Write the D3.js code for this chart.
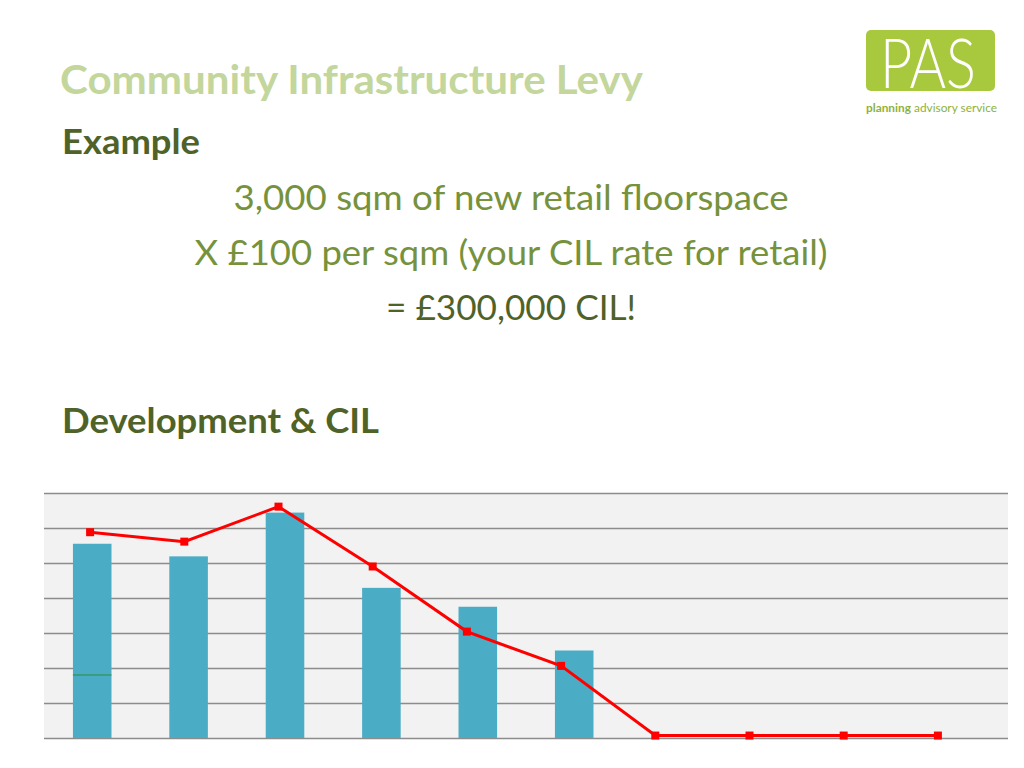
<!DOCTYPE html>
<html><head><meta charset="utf-8">
<script src="https://cdn.jsdelivr.net/npm/d3@7"></script>
<style>html,body{margin:0;padding:0;background:#fff;}svg{display:block;font-family:Lato,"Open Sans",sans-serif;}</style>
</head><body>
<svg id="c" width="1024" height="768"></svg>
<script>
// Data
const categories = ["A","B","C","D","E","F","G","H","I","J"];
const developmentValues = [5.55, 5.19, 6.44, 4.29, 3.75, 2.5, 0, 0, 0, 0];
const cilValues = [5.88, 5.61, 6.61, 4.9, 3.04, 2.06, 0.07, 0.07, 0.07, 0.07];
const markValues = [1.8, null, null, null, null, null, null, null, null, null];
const yTicks = [0,1,2,3,4,5,6,7];

(function(){
const svg = d3.select("#c");

// Texts
svg.append("text").attr("x",60).attr("y",94).attr("fill","#c3d69b")
  .attr("font-size",41).attr("font-weight","bold")
  .attr("textLength",583).attr("lengthAdjust","spacingAndGlyphs").text("Community Infrastructure Levy");
svg.append("text").attr("x",62).attr("y",154).attr("fill","#4f6228")
  .attr("font-size",35).attr("font-weight","bold")
  .attr("textLength",138).attr("lengthAdjust","spacingAndGlyphs").text("Example");
const centerLines = [
  {t:"3,000 sqm of new retail floorspace", y:210, c:"#76923c", w:555},
  {t:"X £100 per sqm (your CIL rate for retail)", y:265, c:"#76923c", w:633},
  {t:"= £300,000 CIL!", y:320, c:"#4f6228", w:250}
];
svg.selectAll("text.cl").data(centerLines).join("text").attr("class","cl")
  .attr("x",511).attr("y",d=>d.y).attr("text-anchor","middle").attr("fill",d=>d.c)
  .attr("font-size",34).attr("textLength",d=>d.w).attr("lengthAdjust","spacingAndGlyphs").text(d=>d.t);
svg.append("text").attr("x",62).attr("y",433).attr("fill","#4f6228")
  .attr("font-size",35).attr("font-weight","bold")
  .attr("textLength",317).attr("lengthAdjust","spacingAndGlyphs").text("Development & CIL");

// Logo
svg.append("rect").attr("x",866).attr("y",30).attr("width",129).attr("height",61)
  .attr("rx",5).attr("fill","#a8c83e");
svg.append("text").attr("x",880).attr("y",88).attr("fill","#fff")
  .attr("font-size",68).attr("font-weight",300)
  .attr("textLength",96).attr("lengthAdjust","spacingAndGlyphs").text("PAS");
const sub = svg.append("text").attr("x",866).attr("y",112).attr("fill","#8db23a").attr("font-size",12.2)
  .attr("textLength",131).attr("lengthAdjust","spacingAndGlyphs");
sub.append("tspan").attr("font-weight","bold").text("planning");
sub.append("tspan").text(" advisory service");

// Chart
const pL=44, pR=1008, pT=493, pB=738;
const x = d3.scaleBand().domain(categories).range([pL,pR]).paddingInner(0.6).paddingOuter(0.3);
const xLine = d3.scaleBand().domain(categories).range([43,985]);
const y = d3.scaleLinear().domain([0,7]).range([pB,pT]);

svg.append("rect").attr("x",pL).attr("y",pT).attr("width",pR-pL).attr("height",pB-pT).attr("fill","#f2f2f2");

const gy = svg.append("g").attr("transform",`translate(${pL},0)`)
  .call(d3.axisLeft(y).tickValues(yTicks).tickSize(-(pR-pL)).tickFormat(""));
gy.select(".domain").remove();
gy.selectAll(".tick line").attr("stroke","#8c8c8c").attr("stroke-width",1.5);

svg.selectAll("rect.bar").data(categories).join("rect").attr("class","bar")
  .attr("x",d=>x(d)).attr("width",x.bandwidth())
  .attr("y",(d,i)=>y(developmentValues[i])).attr("height",(d,i)=>pB-y(developmentValues[i]))
  .attr("fill","#4bacc6");

svg.selectAll("line.mark").data(categories.filter((d,i)=>markValues[i]!=null)).join("line").attr("class","mark")
  .attr("x1",d=>x(d)).attr("x2",d=>x(d)+x.bandwidth())
  .attr("y1",d=>y(markValues[categories.indexOf(d)])).attr("y2",d=>y(markValues[categories.indexOf(d)]))
  .attr("stroke","#2e8b3a").attr("stroke-width",1.2);

const line = d3.line().x((d,i)=>xLine(categories[i])+xLine.bandwidth()/2).y(d=>y(d));
svg.append("path").datum(cilValues).attr("d",line).attr("fill","none").attr("stroke","#ff0000").attr("stroke-width",3);
svg.selectAll("rect.pt").data(cilValues).join("rect").attr("class","pt")
  .attr("x",(d,i)=>xLine(categories[i])+xLine.bandwidth()/2-4).attr("y",d=>y(d)-4)
  .attr("width",8).attr("height",8).attr("fill","#ff0000");
})();
</script>
</body></html>
